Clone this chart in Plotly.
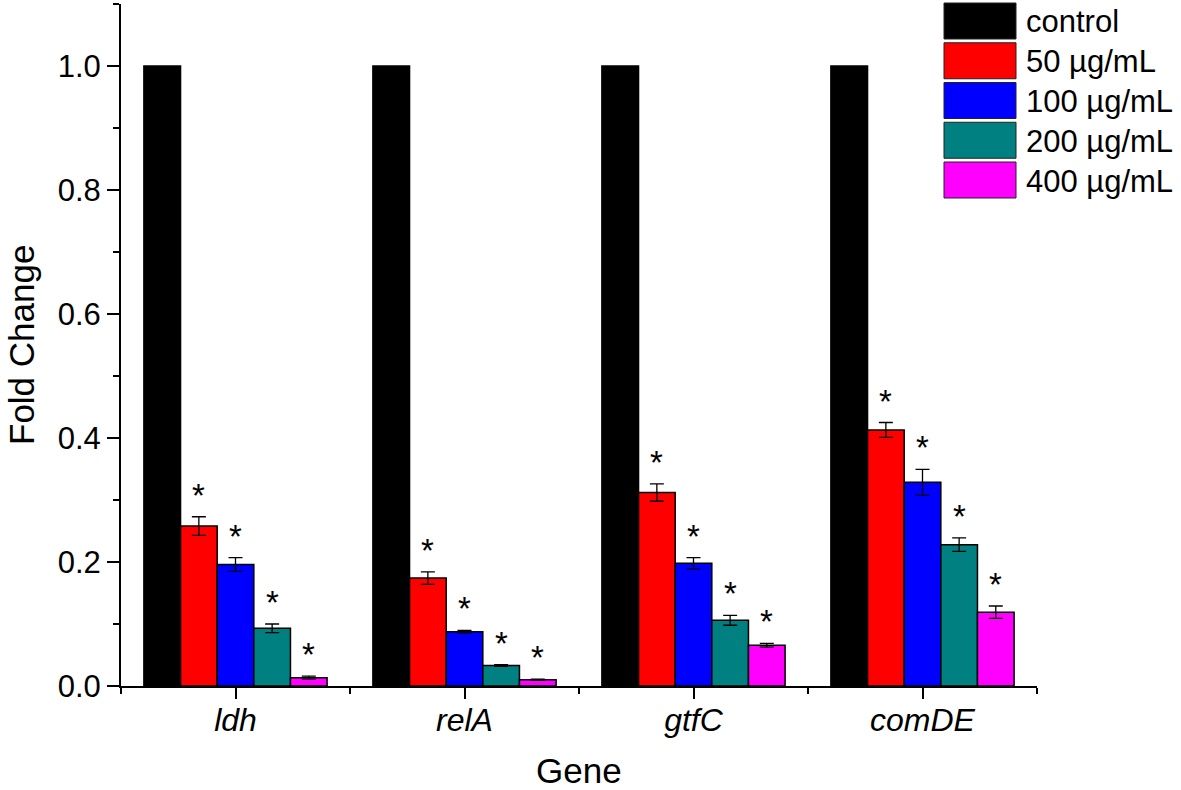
import plotly.graph_objects as go

genes = ["ldh", "relA", "gtfC", "comDE"]
series_names = ["control", "50 µg/mL", "100 µg/mL", "200 µg/mL", "400 µg/mL"]
colors = ["#000000", "#FF0000", "#0000FF", "#008080", "#FF00FF"]
x_title = "Gene"
y_title = "Fold Change"

control = [1.0, 1.0, 1.0, 1.0]
dose50 = [0.258, 0.174, 0.312, 0.413]
dose100 = [0.196, 0.0876, 0.198, 0.3285]
dose200 = [0.093, 0.033, 0.106, 0.228]
dose400 = [0.0135, 0.010, 0.0656, 0.119]

err_control = [0, 0, 0, 0]
err50 = [0.015, 0.010, 0.014, 0.012]
err100 = [0.011, 0.002, 0.009, 0.021]
err200 = [0.007, 0.0015, 0.008, 0.011]
err400 = [0.0025, 0.001, 0.003, 0.010]

significant = [False, True, True, True, True]

values = [control, dose50, dose100, dose200, dose400]
errors = [err_control, err50, err100, err200, err400]

FONT = "Liberation Sans, Arial, sans-serif"
x_idx = list(range(len(genes)))
n = len(series_names)
group_width = 0.8
bw = group_width / n

fig = go.Figure()
for i, (name, vals, errs, col) in enumerate(zip(series_names, values, errors, colors)):
    fig.add_trace(go.Bar(
        x=x_idx, y=vals, name=name,
        marker=dict(color=col, line=dict(color="#000000", width=1.5)),
        error_y=dict(type="data", array=errs, visible=i > 0,
                     color="#000000", thickness=1.3, width=7),
        showlegend=False,
    ))

annotations = []
for i in range(n):
    if not significant[i]:
        continue
    for j in x_idx:
        annotations.append(dict(
            x=j + (i - (n - 1) / 2) * bw, y=values[i][j] + errors[i][j],
            xref="x", yref="y", text="*", showarrow=False,
            yanchor="bottom", yshift=1,
            font=dict(family=FONT, size=33, color="#000000"),
        ))

W, H = 1181, 790
ML, MR, MT, MB = 121, 144, 4, 104
pw, ph = W - ML - MR, H - MT - MB

def px_x(p):
    return (p - ML) / pw

def px_y(p):
    return (H - MB - p) / ph

# custom legend (large swatches like the original)
shapes = []
for i, (name, col) in enumerate(zip(series_names, colors)):
    top = 3 + 39.75 * i
    shapes.append(dict(type="rect", xref="paper", yref="paper",
                       x0=px_x(944), x1=px_x(1016), y0=px_y(top + 36), y1=px_y(top),
                       fillcolor=col, line=dict(color="#222222", width=1)))
    annotations.append(dict(x=px_x(1024), y=px_y(top + 19), xref="paper", yref="paper",
                            text=name, showarrow=False, xanchor="left", yanchor="middle",
                            font=dict(family=FONT, size=31, color="#000000")))

# axis titles
annotations.append(dict(x=0.5, y=px_y(771), xref="paper", yref="paper", text=x_title,
                        showarrow=False, xanchor="center", yanchor="middle", borderpad=0,
                        font=dict(family=FONT, size=35, color="#000000")))
annotations.append(dict(x=px_x(21), y=0.5, xref="paper", yref="paper", text=y_title,
                        showarrow=False, xanchor="center", yanchor="middle", textangle=-90,
                        borderpad=0,
                        font=dict(family=FONT, size=35, color="#000000")))

fig.update_layout(
    width=W, height=H,
    margin=dict(l=ML, r=MR, t=MT, b=MB, autoexpand=False),
    barmode="group", bargap=1 - group_width, bargroupgap=0,
    plot_bgcolor="white", paper_bgcolor="white",
    font=dict(family=FONT, color="#000000"),
    annotations=annotations, shapes=shapes,
    hovermode=False,
    xaxis=dict(
        automargin=False,
        range=[-0.5, 3.5], tickmode="array", tickvals=x_idx,
        ticktext=["<i>%s</i>" % g for g in genes],
        tickfont=dict(family=FONT, size=32),
        ticks="outside", ticklen=11, tickwidth=2, tickcolor="#000000",
        ticklabelstandoff=-6,
        showline=True, linecolor="#000000", linewidth=2, showgrid=False, zeroline=False,
        minor=dict(tickmode="array", tickvals=[-0.5, 0.5, 1.5, 2.5, 3.5],
                   ticks="outside", ticklen=6, tickwidth=2, tickcolor="#000000"),
    ),
    yaxis=dict(
        automargin=False,
        range=[0, 1.1], tickmode="linear", tick0=0, dtick=0.2, tickformat=".1f",
        tickfont=dict(family=FONT, size=31),
        ticks="outside", ticklen=12, tickwidth=2, tickcolor="#000000",
        showline=True, linecolor="#000000", linewidth=2, showgrid=False, zeroline=False,
        minor=dict(tickmode="linear", tick0=0, dtick=0.1,
                   ticks="outside", ticklen=6, tickwidth=2, tickcolor="#000000"),
    ),
)

fig.write_html(
    "out.html",
    config={"displayModeBar": False, "staticPlot": True},
    post_script="document.body.style.margin='0';document.body.style.overflow='hidden';",
)
